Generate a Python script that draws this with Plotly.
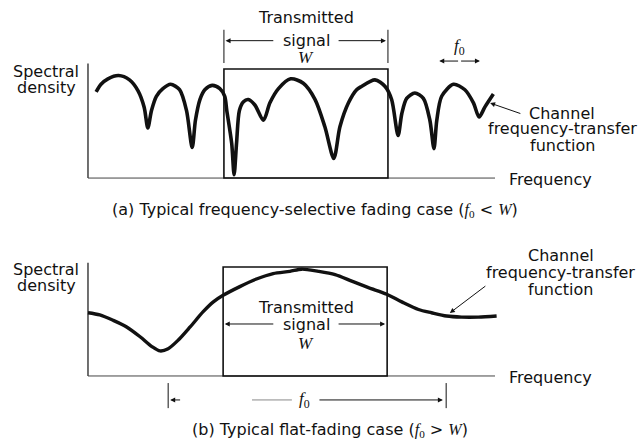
import plotly.graph_objects as go

# (a) frequency-selective channel response
freq_a = [0.20, 0.32, 0.49, 0.75, 1.02, 1.23, 1.38, 1.47, 1.56, 1.68, 1.84, 2.03,
          2.25, 2.42, 2.56, 2.64, 2.75, 2.87, 3.05, 3.24, 3.36, 3.41, 3.53, 3.59,
          3.65, 3.72, 3.82, 3.94, 4.10, 4.31, 4.47, 4.68, 4.98, 5.29, 5.58, 5.82,
          6.04, 6.19, 6.40, 6.60, 6.72, 7.05, 7.30, 7.46, 7.62, 7.71, 7.83, 8.03,
          8.24, 8.40, 8.50, 8.57, 8.69, 8.98, 9.26, 9.47, 9.61, 9.75, 9.96]
amp_a = [0.79, 0.86, 0.91, 0.94, 0.90, 0.80, 0.65, 0.46, 0.62, 0.75, 0.82, 0.86,
         0.81, 0.62, 0.28, 0.53, 0.72, 0.81, 0.85, 0.82, 0.75, 0.62, 0.32, 0.03,
         0.32, 0.62, 0.70, 0.72, 0.67, 0.53, 0.69, 0.82, 0.91, 0.87, 0.72, 0.47,
         0.18, 0.47, 0.69, 0.81, 0.84, 0.90, 0.84, 0.72, 0.39, 0.59, 0.73, 0.78,
         0.73, 0.53, 0.27, 0.53, 0.75, 0.86, 0.81, 0.69, 0.56, 0.65, 0.77]

# (b) flat-fading channel response
freq_b = [0.0, 0.29, 0.62, 0.95, 1.28, 1.57, 1.77, 1.97, 2.22, 2.51, 2.83, 3.08,
          3.32, 3.73, 4.14, 4.55, 4.96, 5.25, 5.66, 6.07, 6.48, 6.89, 7.34, 7.71,
          8.12, 8.44, 8.81, 9.18, 9.59, 10.04]
amp_b = [0.58, 0.56, 0.51, 0.45, 0.36, 0.27, 0.23, 0.25, 0.33, 0.45, 0.59, 0.68,
         0.74, 0.82, 0.89, 0.94, 0.96, 0.98, 0.96, 0.93, 0.87, 0.81, 0.75, 0.68,
         0.61, 0.58, 0.55, 0.54, 0.54, 0.55]

# transmitted signal band (W) and its level
band_a = [3.34, 7.37]
band_b = [3.32, 7.35]
signal_level = 1.0
freq_max = 10.0

SANS = "DejaVu Sans"
SERIF = "Liberation Serif"
INK = "#111111"
FS = 16

fig = go.Figure()

fig.add_trace(go.Scatter(x=freq_a, y=amp_a, mode="lines", xaxis="x", yaxis="y",
                         line=dict(color=INK, width=3.6, shape="spline", smoothing=0.8),
                         showlegend=False, hoverinfo="skip"))
fig.add_trace(go.Scatter(x=freq_b, y=amp_b, mode="lines", xaxis="x2", yaxis="y2",
                         line=dict(color=INK, width=3.4, shape="spline", smoothing=0.8),
                         showlegend=False, hoverinfo="skip"))

shapes = []
for xr, yr, band, ytop in [("x", "y", band_a, 1.05), ("x2", "y2", band_b, 1.04)]:
    # axes
    shapes.append(dict(type="line", xref=xr, yref=yr, x0=0, x1=0, y0=0, y1=ytop,
                       line=dict(color=INK, width=1.2)))
    shapes.append(dict(type="line", xref=xr, yref=yr, x0=0, x1=freq_max, y0=0, y1=0,
                       line=dict(color="#444444", width=1)))
    # transmitted signal box
    shapes.append(dict(type="rect", xref=xr, yref=yr, x0=band[0], x1=band[1], y0=0,
                       y1=signal_level, line=dict(color=INK, width=1.6)))

# dimension ticks above the box in (a)
for bx in band_a:
    shapes.append(dict(type="line", xref="x", yref="y", x0=bx, x1=bx, y0=1.055, y1=1.36,
                       line=dict(color=INK, width=1)))
# f0 ticks below (b)
for bx in [1.97, 8.80]:
    shapes.append(dict(type="line", xref="x2", yref="y2", x0=bx, x1=bx, y0=-0.065, y1=-0.295,
                       line=dict(color=INK, width=1)))
shapes.append(dict(type="line", xref="x2", yref="y2", x0=4.03, x1=5.01, y0=-0.22, y1=-0.22,
                   line=dict(color="#888888", width=1)))
fig.update_layout(shapes=shapes)


def txt(x, y, s, xr="x", yr="y", size=FS, family=SANS, xanchor="center"):
    fig.add_annotation(x=x, y=y, xref=xr, yref=yr, text=s, showarrow=False,
                       xanchor=xanchor, yanchor="middle",
                       font=dict(family=family, size=size, color=INK))


def arrow(x0, y0, x1, y1, xr="x", yr="y", head=2, size=1.0, width=1):
    fig.add_annotation(x=x1, y=y1, ax=x0, ay=y0, xref=xr, yref=yr, axref=xr, ayref=yr,
                       text="", showarrow=True, arrowhead=head, arrowsize=size,
                       arrowwidth=width, arrowcolor=INK)


# ---- panel (a) text
txt(-1.03, 0.98, "Spectral")
txt(-1.03, 0.826, "density")
txt(5.36, 1.468, "Transmitted")
txt(5.36, 1.266, "signal")
txt(5.36, 1.11, "<i>W</i>", family=SERIF, size=17)
arrow(4.59, 1.26, 3.38, 1.26)
arrow(6.12, 1.26, 7.32, 1.26)
arrow(9.13, 1.073, 8.63, 1.073, head=2)
arrow(9.13, 1.073, 9.63, 1.073, head=2)
txt(9.13, 1.2, "<i>f</i><sub>0</sub>", family=SERIF, size=17)
txt(11.65, 0.596, "Channel")
txt(11.65, 0.459, "frequency-transfer")
txt(11.65, 0.294, "function")
arrow(10.66, 0.587, 9.88, 0.688)
txt(10.29, -0.01, "Frequency", xanchor="left")
txt(5.58, -0.294, "(a) Typical frequency-selective fading case ("
        f"<span style='font-family:{SERIF}'><i>f</i><sub>0</sub></span> &lt; "
        f"<span style='font-family:{SERIF}'><i>W</i></span>)")

# ---- panel (b) text
txt(-1.03, 0.98, "Spectral", "x2", "y2")
txt(-1.03, 0.826, "density", "x2", "y2")
txt(5.36, 0.624, "Transmitted", "x2", "y2")
txt(5.36, 0.468, "signal", "x2", "y2")
txt(5.36, 0.30, "<i>W</i>", "x2", "y2", family=SERIF, size=17)
arrow(4.59, 0.477, 3.36, 0.477, "x2", "y2")
arrow(6.12, 0.477, 7.30, 0.477, "x2", "y2")
arrow(2.30, -0.22, 2.02, -0.22, "x2", "y2")
arrow(5.65, -0.22, 8.72, -0.22, "x2", "y2")
txt(5.33, -0.22, "<i>f</i><sub>0</sub>", "x2", "y2", family=SERIF, size=17)
txt(11.62, 1.11, "Channel", "x2", "y2")
txt(11.62, 0.954, "frequency-transfer", "x2", "y2")
txt(11.62, 0.798, "function", "x2", "y2")
arrow(9.80, 0.835, 8.89, 0.578, "x2", "y2")
txt(10.29, -0.01, "Frequency", "x2", "y2", xanchor="left")
txt(5.95, -0.495, "(b) Typical flat-fading case ("
        f"<span style='font-family:{SERIF}'><i>f</i><sub>0</sub></span> &gt; "
        f"<span style='font-family:{SERIF}'><i>W</i></span>)", "x2", "y2")

hidden = dict(visible=False, showgrid=False, zeroline=False, fixedrange=True)
fig.update_layout(
    width=644, height=443,
    margin=dict(l=0, r=0, t=0, b=0),
    paper_bgcolor="white", plot_bgcolor="white",
    xaxis=dict(hidden, domain=[0, 1], range=[-2.162, 13.661], anchor="y"),
    yaxis=dict(hidden, domain=[0.4898, 1], range=[-0.440, 1.633], anchor="x"),
    xaxis2=dict(hidden, domain=[0, 1], range=[-2.162, 13.661], anchor="y2"),
    yaxis2=dict(hidden, domain=[0, 0.4898], range=[-0.615, 1.376], anchor="x2"),
)

fig.write_html("out.html", config={"displayModeBar": False},
               post_script="document.body.style.margin='0px';")
